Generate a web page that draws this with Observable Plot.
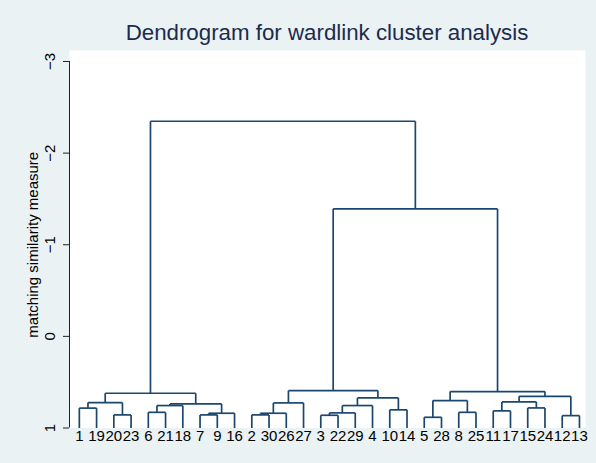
<!DOCTYPE html>
<html><head><meta charset="utf-8">
<script src="https://cdn.jsdelivr.net/npm/d3@7"></script>
<script src="https://cdn.jsdelivr.net/npm/@observablehq/plot@0.6"></script>
<style>
html,body{margin:0;padding:0;background:#eaf2f3;}
#wrap{position:relative;width:596px;height:463px;overflow:hidden;background:#eaf2f3;}
#title{position:absolute;left:69px;width:516px;top:23px;text-align:center;font-family:"Liberation Sans",Arial,sans-serif;font-size:22.3px;line-height:20px;color:#1c2b4d;white-space:nowrap;}
#chart{position:absolute;left:0;top:50px;}
</style></head><body>
<div id="wrap"><div id="title">Dendrogram for wardlink cluster analysis</div><div id="chart"></div></div>
<script>
// Leaves, left to right as drawn
const leafLabels = [1, 19, 20, 23, 6, 21, 18, 7, 9, 16, 2, 30, 26, 27, 3, 22, 29, 4, 10, 14, 5, 28, 8, 25, 11, 17, 15, 24, 12, 13];
// Merges: numbers = leaf labels, "cN" = result of merge N
const mergeLeft  = [1, 20, "c0", 6, "c3", 7, "c5", "c4", "c2", 2, "c9", "c10", 3, "c12", "c13", 10, "c14", "c11", 5, 8, "c18", 11, 15, "c21", 12, "c23", "c20", "c17", "c8"];
const mergeRight = [19, 23, "c1", 21, 18, 9, 16, "c6", "c7", 30, 26, 27, 22, 29, 4, 14, "c15", "c16", 28, 25, "c19", 17, 24, "c22", 13, "c24", "c25", "c26", "c27"];
const mergeHeight = [0.783, 0.857, 0.723, 0.829, 0.755, 0.857, 0.839, 0.737, 0.621, 0.857, 0.839, 0.726, 0.861, 0.835, 0.755, 0.802, 0.671, 0.592, 0.883, 0.829, 0.701, 0.813, 0.781, 0.715, 0.865, 0.654, 0.603, -1.392, -2.348];
const leafBase = 1;
const yTicks = [1, 0, -1, -2, -3];
const yLabel = "matching similarity measure";

// build node positions
const nodes = new Map();
leafLabels.forEach((d, i) => nodes.set(String(d), {x: i, y: leafBase}));
const segments = [];
mergeHeight.forEach((h, i) => {
  const a = nodes.get(String(mergeLeft[i]));
  const b = nodes.get(String(mergeRight[i]));
  segments.push({x1: a.x, y1: a.y, x2: a.x, y2: h});
  segments.push({x1: b.x, y1: b.y, x2: b.x, y2: h});
  segments.push({x1: a.x, y1: h, x2: b.x, y2: h});
  nodes.set("c" + i, {x: (a.x + b.x) / 2, y: h});
});

const xDomain = [-0.57, leafLabels.length - 1 + 0.35];
const fmt = d => d < 0 ? "\u2212" + (-d) : String(d);

const chart = Plot.plot({
  width: 596,
  height: 413,
  marginTop: 0,
  marginBottom: 35.5,
  marginLeft: 69,
  marginRight: 11,
  style: {fontFamily: "'Liberation Sans', Arial, sans-serif", fontSize: "15px", background: "transparent", color: "#000"},
  x: {domain: xDomain, axis: null},
  y: {domain: [1, -3.12], axis: null},
  marks: [
    Plot.frame({fill: "white", stroke: null}),
    Plot.link(segments, {x1: "x1", y1: "y1", x2: "x2", y2: "y2", stroke: "#1a476f", strokeWidth: 1.7}),
    Plot.ruleX([xDomain[0]], {y1: yTicks[yTicks.length - 1], y2: yTicks[0], stroke: "#222", strokeWidth: 1}),
    Plot.axisY({ticks: yTicks, tickSize: 6, tickRotate: -90, tickPadding: 9, tickFormat: fmt, label: null, fontSize: 15, stroke: "#222"}),
    Plot.text([yLabel], {frameAnchor: "left", y: () => d3.mean(d3.extent(yTicks)), dx: -36, rotate: -90, textAnchor: "middle", lineAnchor: "middle", fontSize: 15, text: d => d, fill: "#000"}),
    Plot.text(leafLabels, {x: (d, i) => i, y: () => leafBase, text: d => String(d), lineAnchor: "top", dy: 2, fontSize: 15, fill: "#000"})
  ]
});
document.getElementById("chart").appendChild(chart);
</script>
</body></html>
